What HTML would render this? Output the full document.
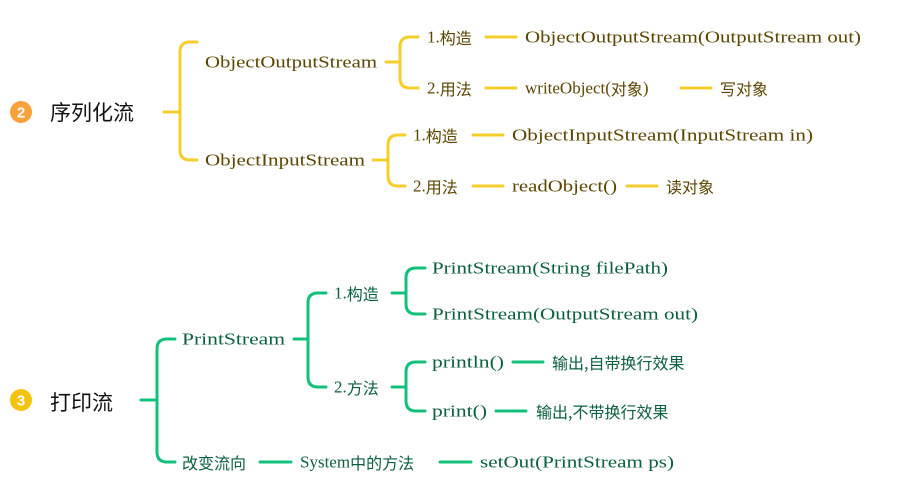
<!DOCTYPE html>
<html><head><meta charset="utf-8"><style>
html,body{margin:0;padding:0;background:#fff;}
svg{display:block}
text{font-family:"Liberation Serif","Noto Serif CJK SC","Noto Sans CJK SC",serif;font-size:17px;dominant-baseline:central;}
.y{fill:#5a4500}
.g{fill:#0b5f3c}
.t{font-family:"Noto Sans CJK SC","WenQuanYi Zen Hei",sans-serif;font-size:21px;fill:#111}
.cj{font-family:"Noto Sans CJK SC",sans-serif;font-size:16px}
.ly{stroke:#f4cf2b;stroke-width:3;fill:none;stroke-linecap:round}
.lg{stroke:#12c07c;stroke-width:3;fill:none;stroke-linecap:round}
</style></head><body>
<svg width="897" height="502" xmlns="http://www.w3.org/2000/svg">
<!-- yellow section -->
<circle cx="21" cy="112" r="11" fill="#f7a13c"/>
<text x="21" y="113" text-anchor="middle" style="font-family:'Liberation Sans',sans-serif;font-size:15px;font-weight:bold;fill:#fff">2</text>
<text class="t" x="50" y="112">序列化流</text>
<path class="ly" d="M164 112 H180 M197 42 H190 Q180 42 180 52 V150 Q180 160 190 160 H197"/>
<text class="y" x="205" y="62" textLength="172" lengthAdjust="spacingAndGlyphs">ObjectOutputStream</text>
<path class="ly" d="M386 62 H400 M418 37 H410 Q400 37 400 47 V78 Q400 88 410 88 H418"/>
<text class="y" x="427" y="37">1.<tspan class="cj">构造</tspan></text>
<path class="ly" d="M486 37 H516"/>
<text class="y" x="525" y="37" textLength="336" lengthAdjust="spacingAndGlyphs">ObjectOutputStream(OutputStream out)</text>
<text class="y" x="427" y="88">2.<tspan class="cj">用法</tspan></text>
<path class="ly" d="M486 88 H516"/>
<text class="y" x="525" y="88">writeObject(<tspan class="cj">对象</tspan>)</text>
<path class="ly" d="M681 88 H711"/>
<text class="y cj" x="720" y="88">写对象</text>
<text class="y" x="205" y="160" textLength="160" lengthAdjust="spacingAndGlyphs">ObjectInputStream</text>
<path class="ly" d="M373 160 H388 M405 135 H398 Q388 135 388 145 V176 Q388 186 398 186 H405"/>
<text class="y" x="413" y="135">1.<tspan class="cj">构造</tspan></text>
<path class="ly" d="M473 135 H503"/>
<text class="y" x="512" y="135" textLength="301" lengthAdjust="spacingAndGlyphs">ObjectInputStream(InputStream in)</text>
<text class="y" x="413" y="186">2.<tspan class="cj">用法</tspan></text>
<path class="ly" d="M473 186 H503"/>
<text class="y" x="512" y="186" textLength="105" lengthAdjust="spacingAndGlyphs">readObject()</text>
<path class="ly" d="M627 186 H657"/>
<text class="y cj" x="666" y="186">读对象</text>

<!-- green section -->
<circle cx="21" cy="400" r="11" fill="#f2c40f"/>
<text x="21" y="401" text-anchor="middle" style="font-family:'Liberation Sans',sans-serif;font-size:15px;font-weight:bold;fill:#fff">3</text>
<text class="t" x="50" y="402">打印流</text>
<path class="lg" d="M141 400 H157 M175 339 H167 Q157 339 157 349 V452 Q157 462 167 462 H175"/>
<text class="g" x="182" y="339" textLength="103" lengthAdjust="spacingAndGlyphs">PrintStream</text>
<path class="lg" d="M294 339 H308 M326 293 H318 Q308 293 308 303 V377 Q308 387 318 387 H326"/>
<text class="g" x="334" y="293">1.<tspan class="cj">构造</tspan></text>
<path class="lg" d="M392 293 H406 M425 268 H416 Q406 268 406 278 V304 Q406 314 416 314 H425"/>
<text class="g" x="432" y="268" textLength="236" lengthAdjust="spacingAndGlyphs">PrintStream(String filePath)</text>
<text class="g" x="432" y="314" textLength="266" lengthAdjust="spacingAndGlyphs">PrintStream(OutputStream out)</text>
<text class="g" x="334" y="387">2.<tspan class="cj">方法</tspan></text>
<path class="lg" d="M392 387 H406 M425 362 H416 Q406 362 406 372 V401 Q406 411 416 411 H425"/>
<text class="g" x="432" y="362" textLength="72" lengthAdjust="spacingAndGlyphs">println()</text>
<path class="lg" d="M513 362 H543"/>
<text class="g cj" x="552" y="362">输出,自带换行效果</text>
<text class="g" x="432" y="411" textLength="55" lengthAdjust="spacingAndGlyphs">print()</text>
<path class="lg" d="M496 411 H526"/>
<text class="g cj" x="536" y="411">输出,不带换行效果</text>
<text class="g cj" x="182" y="462">改变流向</text>
<path class="lg" d="M260 462 H291"/>
<text class="g" x="300" y="462">System<tspan class="cj">中的方法</tspan></text>
<path class="lg" d="M440 462 H471"/>
<text class="g" x="480" y="462" textLength="194" lengthAdjust="spacingAndGlyphs">setOut(PrintStream ps)</text>
</svg>
</body></html>
